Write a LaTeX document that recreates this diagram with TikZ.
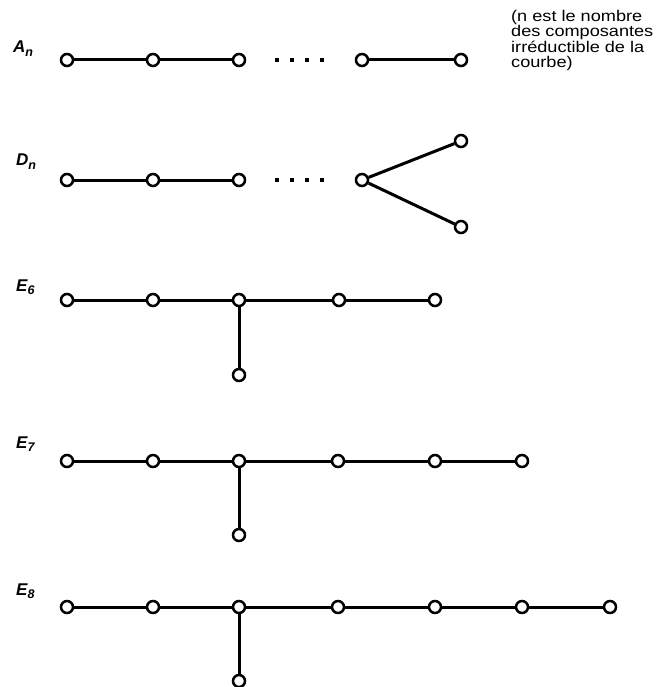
\documentclass[tikz,border=0pt]{standalone}
\usepackage{fontspec}
\setmainfont{Liberation Sans}
\newfontfamily\notefont{Liberation Sans}[FakeStretch=1.17]
\newcommand{\notesetup}{\notefont\fontsize{15.5}{15.5}\selectfont\lineskiplimit=-20pt\relax}
\tikzset{
  vtx/.style={circle,draw=black,fill=white,line width=2.5pt,minimum size=12pt,inner sep=0pt},
  edg/.style={line width=3pt,black},
  lab/.style={anchor=base west,inner sep=0pt,font=\fontsize{17}{17}\selectfont\bfseries\itshape},
  note/.style={anchor=north west,inner sep=0pt,align=left,font=\notesetup}
}
\newcommand{\sbx}[1]{\raisebox{-3.5pt}{\fontsize{12.5}{12.5}\selectfont #1}}
\begin{document}
\begin{tikzpicture}[x=1pt,y=-1pt]
\useasboundingbox[fill=white] (0,0) rectangle (657,687);
% labels
\node[lab] (lA) at (13,53) {A\sbx{n}};
\node[lab] (lD) at (16,166) {D\sbx{n}};
\node[lab] (l6) at (16,291) {E\sbx{6}};
\node[lab] (l7) at (16,448) {E\sbx{7}};
\node[lab] (l8) at (16,595) {E\sbx{8}};
\node[note] (nt) at (511,10) {(n est le nombre\\des composantes\\irréductible de la\\courbe)};
% A_n
\node[vtx] (a1) at (67,60) {};
\node[vtx] (a2) at (153,60) {};
\node[vtx] (a3) at (239,60) {};
\node[vtx] (a4) at (362,60) {};
\node[vtx] (a5) at (461,60) {};
\draw[edg] (a1) -- (a2); \draw[edg] (a2) -- (a3); \draw[edg] (a4) -- (a5);
\foreach \x in {277,292,307,322}{\fill (\x-1.8,58.2) rectangle (\x+1.8,61.8); \fill (\x-1.8,178.2) rectangle (\x+1.8,181.8);}
% D_n
\node[vtx] (d1) at (67,180) {};
\node[vtx] (d2) at (153,180) {};
\node[vtx] (d3) at (239,180) {};
\node[vtx] (d4) at (362,180) {};
\node[vtx] (d5) at (461,141) {};
\node[vtx] (d6) at (461,227) {};
\draw[edg] (d1) -- (d2); \draw[edg] (d2) -- (d3); \draw[edg] (d4) -- (d5); \draw[edg] (d4) -- (d6);
% E6
\node[vtx] (e61) at (67,300) {};
\node[vtx] (e62) at (153,300) {};
\node[vtx] (e63) at (239,300) {};
\node[vtx] (e64) at (339,300) {};
\node[vtx] (e65) at (435,300) {};
\node[vtx] (e66) at (239,375) {};
\draw[edg] (e61) -- (e62); \draw[edg] (e62) -- (e63); \draw[edg] (e63) -- (e64); \draw[edg] (e64) -- (e65); \draw[edg] (e63) -- (e66);
% E7
\node[vtx] (e71) at (67,461) {};
\node[vtx] (e72) at (153,461) {};
\node[vtx] (e73) at (239,461) {};
\node[vtx] (e74) at (338,461) {};
\node[vtx] (e75) at (435,461) {};
\node[vtx] (e76) at (522,461) {};
\node[vtx] (e77) at (239,535) {};
\draw[edg] (e71) -- (e72); \draw[edg] (e72) -- (e73); \draw[edg] (e73) -- (e74); \draw[edg] (e74) -- (e75); \draw[edg] (e75) -- (e76); \draw[edg] (e73) -- (e77);
% E8
\node[vtx] (e81) at (67,607) {};
\node[vtx] (e82) at (153,607) {};
\node[vtx] (e83) at (239,607) {};
\node[vtx] (e84) at (338,607) {};
\node[vtx] (e85) at (435,607) {};
\node[vtx] (e86) at (522,607) {};
\node[vtx] (e87) at (610,607) {};
\node[vtx] (e88) at (239,681) {};
\draw[edg] (e81) -- (e82); \draw[edg] (e82) -- (e83); \draw[edg] (e83) -- (e84); \draw[edg] (e84) -- (e85); \draw[edg] (e85) -- (e86); \draw[edg] (e86) -- (e87); \draw[edg] (e83) -- (e88);
\end{tikzpicture}
\end{document}
